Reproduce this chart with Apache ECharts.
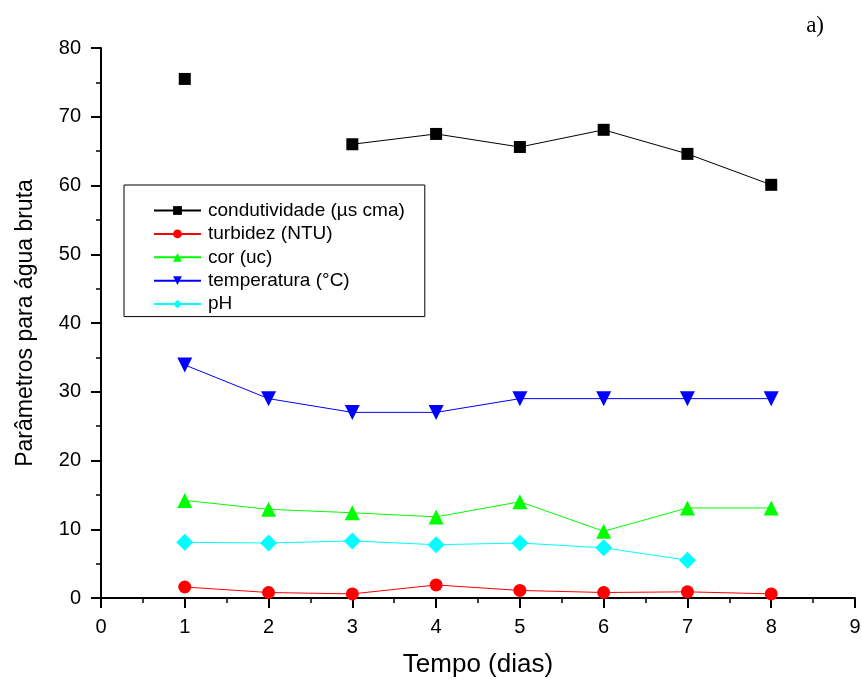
<!DOCTYPE html>
<html><head><meta charset="utf-8">
<script src="https://cdn.jsdelivr.net/npm/echarts@6/dist/echarts.min.js"></script>
<style>html,body{margin:0;padding:0;background:#fff}#c{width:862px;height:680px}</style>
</head><body><div id="c"></div>
<script>
const days = [1, 2, 3, 4, 5, 6, 7, 8];
const condutividade = [75.5, null, 66.0, 67.5, 65.6, 68.1, 64.6, 60.1];
const turbidez = [1.6, 0.8, 0.6, 1.9, 1.1, 0.8, 0.9, 0.6];
const cor = [14.2, 12.9, 12.4, 11.8, 14.0, 9.7, 13.1, 13.1];
const temperatura = [33.9, 29, 27, 27, 29, 29, 29, 29];
const pH = [8.1, 8.0, 8.3, 7.75, 8.0, 7.3, 5.5, null];
const names = ['condutividade (µs cma)', 'turbidez (NTU)', 'cor (uc)', 'temperatura (°C)', 'pH'];
const xTicks = [0, 1, 2, 3, 4, 5, 6, 7, 8, 9];
const yTicks = [0, 10, 20, 30, 40, 50, 60, 70, 80];

const font = 'Liberation Sans, Arial, sans-serif';
function pairs(arr){ return days.map((d,i)=>[d, arr[i]]); }
function mk(name, data, color, symbol, size, rotate){
  return {
    name, type:'line', data: pairs(data), connectNulls:false,
    symbol, symbolSize:size, symbolRotate: rotate||0,
    lineStyle:{color, width:1}, itemStyle:{color},
    emphasis:{disabled:true}, animation:false
  };
}
const chart = echarts.init(document.getElementById('c'));
chart.setOption({
  animation:false,
  backgroundColor:'#fff',
  grid:{left:101, right:7, top:48, bottom:82, containLabel:false, outerBoundsMode:'none'},
  title:{text:'a)', right:33, top:9, textStyle:{fontFamily:'Liberation Serif, Times New Roman, serif', fontSize:23, fontWeight:'normal', color:'#000'}},
  legend:{
    left:124, top:185, orient:'vertical',
    data:names,
    backgroundColor:'#fff', borderColor:'#000', borderWidth:1,
    padding:[16, 20, 3, 29], itemGap:4.4, itemWidth:47, itemHeight:11,
    textStyle:{fontFamily:font, fontSize:19, lineHeight:19, color:'#000', padding:[0,0,0,2]},
    selectedMode:false
  },
  xAxis:{
    type:'value', min:0, max:9, interval:1,
    name:'Tempo (dias)', nameLocation:'middle', nameGap:54,
    nameTextStyle:{fontFamily:font, fontSize:26, color:'#000'},
    axisLine:{show:true, onZero:false, lineStyle:{color:'#000', width:2}},
    axisTick:{show:true, inside:false, length:10, lineStyle:{color:'#000', width:2}},
    minorTick:{show:true, splitNumber:2, length:5, lineStyle:{color:'#000', width:1.5}},
    axisLabel:{fontFamily:font, fontSize:20, color:'#000', margin:19},
    splitLine:{show:false}
  },
  yAxis:{
    type:'value', min:0, max:80, interval:10,
    name:'Parâmetros para água bruta', nameLocation:'middle', nameGap:64, nameRotate:90,
    nameTextStyle:{fontFamily:font, fontSize:23, color:'#000'},
    axisLine:{show:true, onZero:false, lineStyle:{color:'#000', width:2}},
    axisTick:{show:true, inside:false, length:10, lineStyle:{color:'#000', width:2}},
    minorTick:{show:true, splitNumber:2, length:5, lineStyle:{color:'#000', width:1.5}},
    axisLabel:{fontFamily:font, fontSize:20, color:'#000', margin:20},
    splitLine:{show:false}
  },
  series:[
    mk(names[0], condutividade, '#000000', 'rect', 12),
    mk(names[1], turbidez, '#ff0000', 'circle', 13),
    mk(names[2], cor, '#00ff00', 'triangle', 15),
    mk(names[3], temperatura, '#0000ff', 'triangle', 15, 180),
    mk(names[4], pH, '#00ffff', 'diamond', 17)
  ]
});
</script></body></html>
